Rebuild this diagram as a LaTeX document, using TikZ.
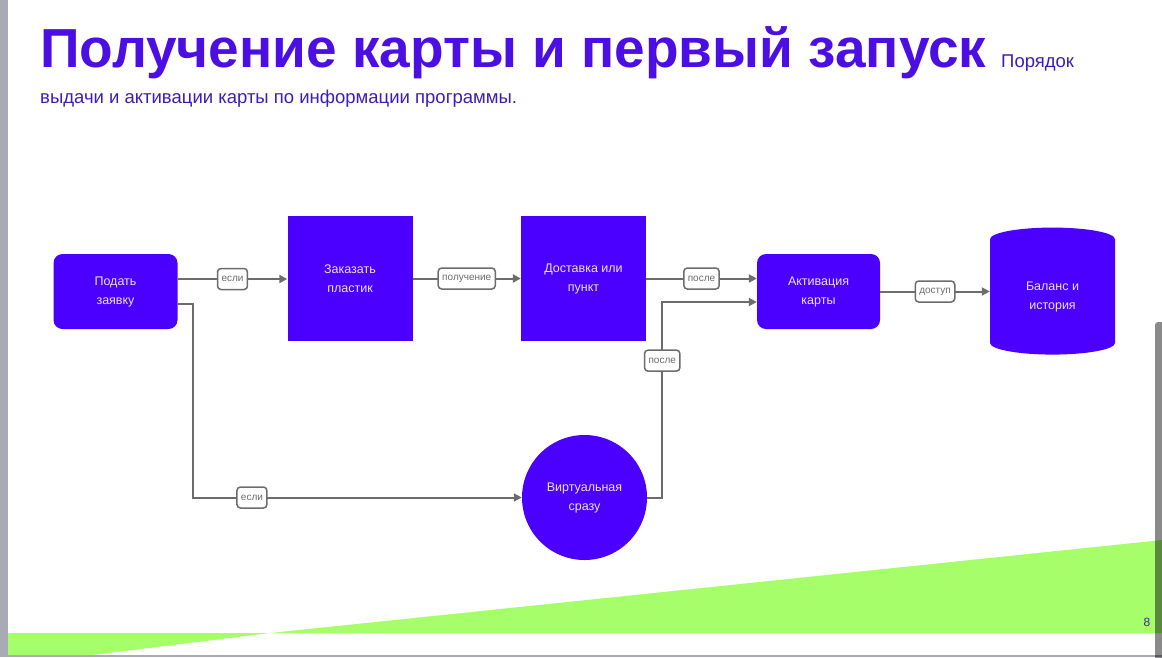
\documentclass[tikz,border=0pt]{standalone}
\usepackage{fontspec}
\setmainfont{Liberation Sans}
\usetikzlibrary{shapes.geometric,arrows.meta}
\definecolor{sinij}{RGB}{75,0,255}
\definecolor{titul}{RGB}{75,15,228}
\definecolor{podtitul}{RGB}{62,30,175}
\definecolor{bukva}{RGB}{236,226,255}
\definecolor{liniya}{RGB}{108,108,108}
\definecolor{salat}{RGB}{166,255,106}
\definecolor{ramka}{RGB}{168,171,179}
\begin{document}
\begin{tikzpicture}[x=1pt,y=-1pt]
\tikzstyle{blok}=[fill=sinij,text=bukva,align=center,inner sep=0pt,font=\fontsize{12.5}{19}\selectfont];
\tikzstyle{kvadrat}=[blok,minimum width=125,minimum height=125];
\tikzstyle{kruglyj}=[blok,rounded corners=9pt,minimum width=124,minimum height=75];
\tikzstyle{metka}=[draw=liniya,line width=1.5pt,fill=white,rounded corners=3.5pt,text=liniya,inner xsep=4pt,minimum height=21,font=\fontsize{10}{11}\selectfont];
\tikzstyle{strelka}=[draw=liniya,line width=2pt,-{Triangle[length=8pt,width=8pt]}];
\useasboundingbox (0,0) rectangle (1162,657);
\fill[white] (0,0) rectangle (1162,657);
% background of the slide
\fill[salat] (8,633) -- (270,633) -- (93,655) -- (8,655) -- cycle;
\fill[salat] (270,633) -- (1162,540) -- (1162,633) -- cycle;
\fill[ramka] (0,0) rectangle (8,657);
\fill[ramka] (0,655) rectangle (1162,657);
\fill[black,opacity=0.46,rounded corners=3pt] (1155,322) rectangle (1166,660);
\node[text=podtitul,font=\fontsize{12}{14}\selectfont] (nomer) at (1147,622) {8};
% title
\node[anchor=base west,inner sep=0pt,text=titul,font=\fontsize{55}{60}\bfseries\selectfont] (zagolovok) at (40,67) {Получение карты и первый запуск};
\node[anchor=base west,inner sep=0pt,text=podtitul,font=\fontsize{18.5}{22}\selectfont] (poryadok) at (1001,67) {Порядок};
\node[anchor=base west,inner sep=0pt,text=podtitul,font=\fontsize{18.5}{22}\selectfont] (vydacha) at (40,103) {выдачи и активации карты по информации программы.};
% diagram
\node[kruglyj] (zayavka) at (115.5,291.5) {Подать\\заявку};
\node[kvadrat] (plastik) at (350,278.5) {Заказать\\пластик};
\node[kvadrat] (dostavka) at (583.5,278.5) {Доставка или\\пункт};
\node[kruglyj,minimum width=123] (aktivaciya) at (818.5,291.5) {Активация\\карты};
\node[blok,cylinder,shape border rotate=90,aspect=0.44,minimum width=125,minimum height=127] (balans) at (1052.5,297) {Баланс и\\история};
\node[blok,circle,minimum size=125] (virtual) at (584.5,497.5) {Виртуальная\\сразу};
\coordinate (vyhod) at ([yshift=12.5pt]zayavka.east);
\draw[strelka] (vyhod) -- node[metka] {если} (plastik.west |- vyhod);
\draw[strelka] (plastik) -- node[metka] {получение} (dostavka);
\draw[strelka] (dostavka.east) -- node[metka] {после} (aktivaciya.west |- dostavka.east);
\draw[strelka] (aktivaciya) -- node[metka] {доступ} (balans.west |- aktivaciya.east);
\draw[strelka] ([yshift=-12pt]zayavka.east) -- ++(15,0) |- node[metka,pos=0.59] {если} (virtual);
\draw[strelka] (virtual.east) -- ++(15,0) |- node[metka,pos=0.35] {после} ([yshift=-10.5pt]aktivaciya.west);
\end{tikzpicture}
\end{document}
